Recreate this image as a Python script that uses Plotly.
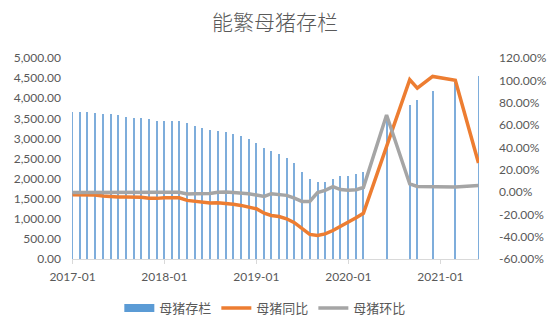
import plotly.graph_objects as go

dates = [f"{y}-{m:02d}-01" for y in (2017, 2018, 2019) for m in range(1, 13)] + \
        ["2020-01-01", "2020-02-01", "2020-03-01", "2020-06-01", "2020-09-01",
         "2020-10-01", "2020-12-01", "2021-03-01", "2021-06-01"]

sow_stock = [3657, 3650, 3648, 3640, 3615, 3598, 3573, 3540, 3515, 3498, 3490, 3433,
             3433, 3433, 3425, 3384, 3310, 3260, 3210, 3175, 3150, 3118, 3060, 2990,
             2890, 2752, 2685, 2615, 2516, 2388, 2172, 1990, 1911, 1927, 2000, 2055,
             2072, 2110, 2164, 3570, 3830, 3950, 4170, 4400, 4560]

yoy = [-2.4, -2.4, -2.4, -2.6, -3.6, -4.3, -4.5, -4.5, -4.5, -4.8, -5.5, -5.7,
       -5.1, -5.0, -5.2, -7.5, -8.2, -9.0, -9.8, -9.6, -10.0, -11.0, -12.0, -13.5,
       -15.0, -19.0, -21.0, -22.0, -24.0, -27.5, -33.0, -38.0, -38.9, -37.5, -34.5, -31.0,
       -27.0, -23.0, -19.0, 41.0, 100.6, 93.0, 103.5, 100.0, 26.0]

mom = [-0.5, -0.5, -0.5, -0.6, -1.0, -1.0, -1.0, -1.0, -0.9, -1.0, -0.6, -0.4,
       -0.4, -0.3, -0.2, -1.8, -1.6, -1.5, -1.3, -0.3, 0.0, -0.5, -0.9, -1.5,
       -2.7, -4.0, -1.5, -2.1, -3.0, -5.4, -8.4, -8.4, -0.5, 1.5, 4.8, 2.2,
       1.5, 2.0, 4.0, 69.0, 7.2, 5.0, 4.5, 4.5, 5.9]

tick_dates = ["2017-01-01", "2018-01-01", "2019-01-01", "2020-01-01", "2021-01-01"]
tick_labels = ["2017-01", "2018-01", "2019-01", "2020-01", "2021-01"]

left_ticks = list(range(0, 5001, 500))
right_ticks = list(range(-60, 121, 20))

FONT = "Lato, 'Noto Sans CJK SC', sans-serif"
CJK = "'Noto Sans CJK SC', sans-serif"
GREY_TXT = "#595959"
BLUE = "#7EADDB"

fig = go.Figure()
fig.add_trace(go.Bar(
    x=dates, y=sow_stock, name="母猪存栏", showlegend=False,
    marker=dict(color=BLUE, line=dict(width=0)),
    width=3.4e8,
))
# legend-only entry drawn as a wide rectangle, like the source legend key
fig.add_trace(go.Scatter(
    x=[None], y=[None], name="母猪存栏", mode="lines",
    line=dict(color="#5B9BD5", width=8),
))
fig.add_trace(go.Scatter(
    x=dates, y=yoy, name="母猪同比", yaxis="y2", mode="lines",
    line=dict(color="#ED7D31", width=3.5),
))
fig.add_trace(go.Scatter(
    x=dates, y=mom, name="母猪环比", yaxis="y2", mode="lines",
    line=dict(color="#A5A5A5", width=3.5),
))

fig.update_layout(
    width=550, height=329,
    margin=dict(l=72, r=71, t=58, b=70, autoexpand=False),
    paper_bgcolor="white", plot_bgcolor="white",
    font=dict(family=FONT, size=12, color=GREY_TXT),
    title=dict(text="能繁母猪存栏", x=0.5, xanchor="center", y=0.93, yanchor="middle",
               font=dict(family=CJK, size=21, color=GREY_TXT, weight=300)),
    showlegend=True,
    legend=dict(orientation="h", x=0.475, xanchor="center", yref="container",
                y=0.064, yanchor="middle",
                font=dict(family=CJK, size=13, color=GREY_TXT), itemwidth=30,
                traceorder="normal"),
    bargap=0,
    xaxis=dict(type="date", range=["2016-12-30", "2021-06-03"],
               tickmode="array", tickvals=tick_dates, ticktext=tick_labels,
               showgrid=False, showline=True, linecolor="#D9D9D9", linewidth=1,
               ticks="outside", ticklen=4, tickcolor="#D9D9D9", ticklabelstandoff=3,
               tickfont=dict(family=FONT, size=12, color=GREY_TXT), zeroline=False),
    yaxis=dict(range=[0, 5000], tickmode="array", tickvals=left_ticks,
               ticktext=[f"{v:,.2f}" for v in left_ticks],
               showgrid=False, zeroline=False, showline=False, ticks="",
               ticklabelstandoff=10,
               tickfont=dict(family=FONT, size=12, color=GREY_TXT)),
    yaxis2=dict(range=[-60, 120], overlaying="y", side="right", tickmode="array",
                tickvals=right_ticks, ticktext=[f"{v:.2f}%" for v in right_ticks],
                showgrid=False, zeroline=False, showline=False, ticks="",
                ticklabelstandoff=19,
                tickfont=dict(family=FONT, size=12, color=GREY_TXT)),
)

fig.write_html("out.html")
